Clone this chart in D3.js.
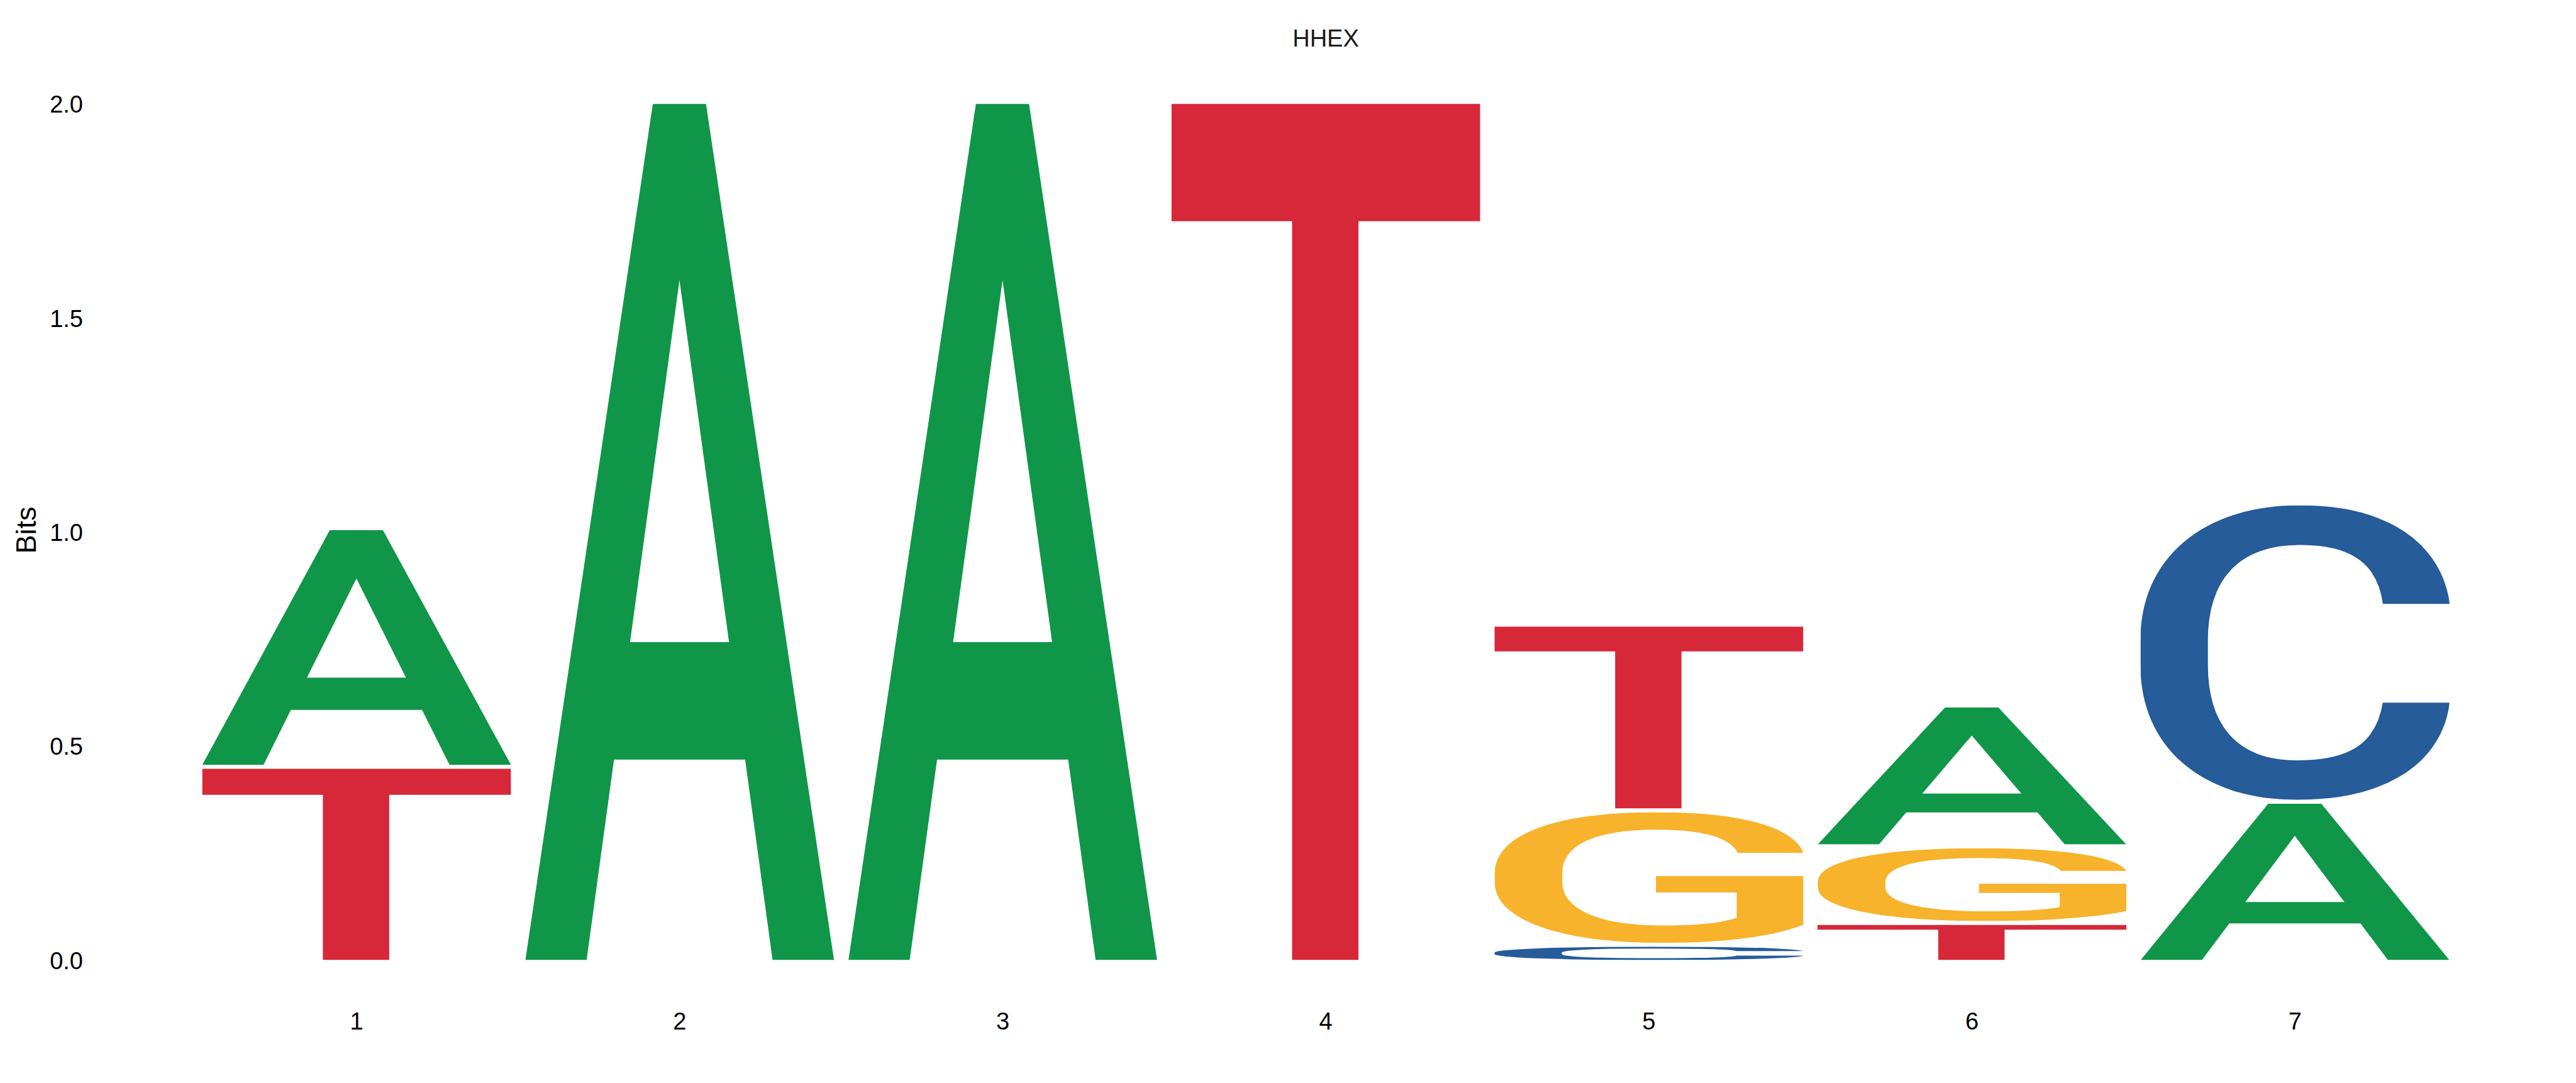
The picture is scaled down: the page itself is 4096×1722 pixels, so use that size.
<!DOCTYPE html>
<html>
<head>
<meta charset="utf-8">
<script src="https://cdn.jsdelivr.net/npm/d3@7"></script>
<style>
  html, body { margin: 0; padding: 0; background: #ffffff; }
  svg { display: block; }
</style>
</head>
<body>
<div id="chart"></div>
<script>
// ---------------- data ----------------
const title = "HHEX";
const yLabel = "Bits";
const positions = [1, 2, 3, 4, 5, 6, 7];
const bases = ["A", "C", "G", "T"];
const bitsA = [0.548, 2.0, 2.0, 0.0, 0.0, 0.320, 0.365];
const bitsC = [0.0, 0.0, 0.0, 0.0, 0.031, 0.0, 0.688];
const bitsG = [0.0, 0.0, 0.0, 0.0, 0.305, 0.170, 0.0];
const bitsT = [0.447, 0.0, 0.0, 2.0, 0.425, 0.082, 0.0];
const yTicks = [0, 0.5, 1.0, 1.5, 2.0];
const baseColors = { A: "#109648", C: "#255C99", G: "#F7B32B", T: "#D62839" };

// ---------------- layout ----------------
const W = 4096, H = 1722;
const letterGap = 0.009; // bits of white space between stacked letters
const GLYPH_FONT_FAMILY = "Roboto";
const GLYPH_FONT_WEIGHT = 500;
const LABEL_FONT = "'Liberation Sans', Arial, Helvetica, sans-serif";

const svg = d3.select("#chart").append("svg")
  .attr("width", W).attr("height", H)
  .attr("viewBox", `0 0 ${W} ${H}`);
svg.append("rect").attr("width", W).attr("height", H).attr("fill", "#ffffff");
const defs = svg.append("defs");

const x = d3.scaleBand()
  .domain(positions)
  .range([310.2, 3906.1])
  .paddingInner(0.044)
  .paddingOuter(0.022);

const y = d3.scaleLinear().domain([0, 2]).range([1526.4, 165.1]);

// ---------------- glyph ink metrics (pixel scan) ----------------
const FS = 1000;
const CW = 1600, CH = 1600, OX = 300, OY = 1250;
const cnv = document.createElement("canvas");
cnv.width = CW; cnv.height = CH;
const ctx = cnv.getContext("2d", { willReadFrequently: true });
const ink = {};
bases.forEach(b => {
  ctx.clearRect(0, 0, CW, CH);
  ctx.font = `${GLYPH_FONT_WEIGHT} ${FS}px ${GLYPH_FONT_FAMILY}`;
  ctx.fillStyle = "#000";
  ctx.textBaseline = "alphabetic";
  ctx.textAlign = "left";
  ctx.fillText(b, OX, OY);
  const data = ctx.getImageData(0, 0, CW, CH).data;
  let minX = CW, maxX = -1, minY = CH, maxY = -1;
  for (let yy = 0; yy < CH; yy++) {
    for (let xx = 0; xx < CW; xx++) {
      if (data[(yy * CW + xx) * 4 + 3] > 127) {
        if (xx < minX) minX = xx;
        if (xx > maxX) maxX = xx;
        if (yy < minY) minY = yy;
        if (yy > maxY) maxY = yy;
      }
    }
  }
  ink[b] = { l: OX - minX, r: maxX + 1 - OX, a: OY - minY, d: maxY + 1 - OY };
});

// ---------------- build stacks ----------------
const series = { A: bitsA, C: bitsC, G: bitsG, T: bitsT };
const glyphs = [];
positions.forEach((p, i) => {
  const items = bases.map(b => ({ base: b, h: series[b][i] }))
    .filter(d => d.h > 0)
    .sort((a, b) => a.h - b.h);
  let cum = 0;
  items.forEach(d => {
    glyphs.push({ pos: p, base: d.base, y0: cum, y1: cum + d.h });
    cum += d.h + letterGap;
  });
});

const gLetters = svg.append("g").attr("class", "letters");
glyphs.forEach((g, k) => {
  const b = ink[g.base];
  const x0 = x(g.pos);
  const w = x.bandwidth();
  const top = y(g.y1);
  const hh = y(g.y0) - y(g.y1);
  const sx = w / (b.l + b.r);
  const sy = hh / (b.a + b.d);
  const cid = "clip" + k;
  defs.append("clipPath").attr("id", cid)
    .append("rect")
    .attr("x", x0).attr("y", top).attr("width", w).attr("height", hh);
  gLetters.append("g")
    .attr("clip-path", `url(#${cid})`)
    .append("g")
    .attr("transform", `translate(${x0},${top}) scale(${sx},${sy})`)
    .append("text")
    .attr("x", b.l)
    .attr("y", b.a)
    .attr("font-family", GLYPH_FONT_FAMILY)
    .attr("font-weight", GLYPH_FONT_WEIGHT)
    .attr("font-size", FS)
    .attr("fill", baseColors[g.base])
    .text(g.base);
});

// ---------------- axes ----------------
const yAxis = d3.axisLeft(y)
  .tickValues(yTicks)
  .tickFormat(d3.format(".1f"))
  .tickSize(0)
  .tickPadding(8);
const gy = svg.append("g").attr("transform", "translate(140,0)").call(yAxis);
gy.select(".domain").remove();
gy.selectAll("text")
  .attr("dy", "0.36em")
  .attr("font-family", LABEL_FONT)
  .attr("font-size", 38)
  .attr("fill", "#000000");

const xAxis = d3.axisBottom(x).tickSize(0).tickPadding(10);
const gx = svg.append("g").attr("transform", "translate(0,1600)").call(xAxis);
gx.select(".domain").remove();
gx.selectAll("text")
  .attr("font-family", LABEL_FONT)
  .attr("font-size", 38)
  .attr("fill", "#000000");

// y label
svg.append("text")
  .attr("transform", "translate(57,843) rotate(-90)")
  .attr("text-anchor", "middle")
  .attr("font-family", LABEL_FONT)
  .attr("font-size", 45)
  .attr("fill", "#000000")
  .text(yLabel);

// title
svg.append("text")
  .attr("x", 2108)
  .attr("y", 74)
  .attr("text-anchor", "middle")
  .attr("font-family", LABEL_FONT)
  .attr("font-size", 38)
  .attr("fill", "#1a1a1a")
  .text(title);
</script>
</body>
</html>
